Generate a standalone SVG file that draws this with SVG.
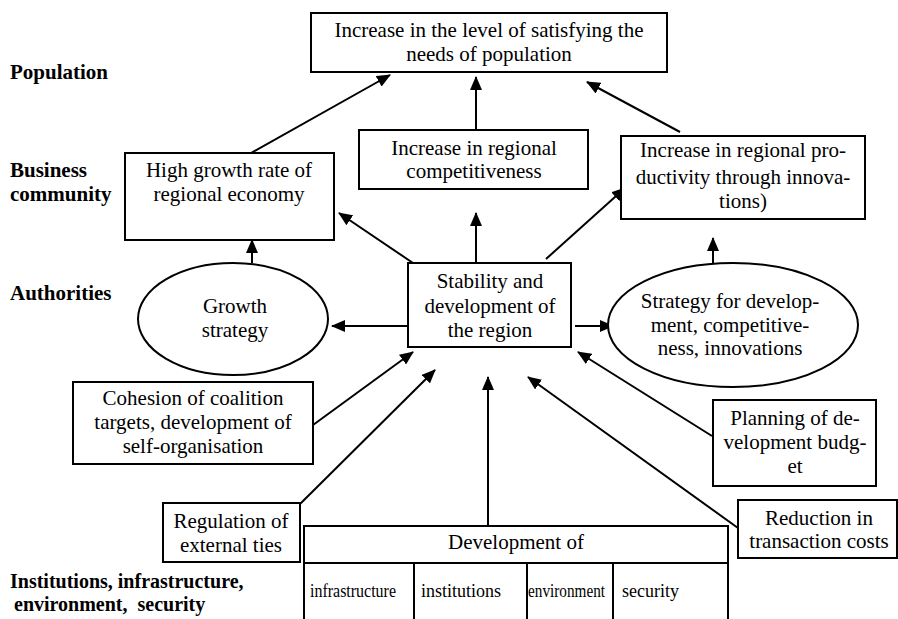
<svg xmlns="http://www.w3.org/2000/svg" width="898" height="619" viewBox="0 0 898 619">
<defs>
<style>
.box{fill:#fff;stroke:#000;stroke-width:2}
.t{font-family:"Liberation Serif","Times New Roman",serif;font-size:21px;fill:#000;text-anchor:middle}
.s{font-family:"Liberation Serif","Times New Roman",serif;font-size:18px;fill:#000}
.lab{font-family:"Liberation Serif","Times New Roman",serif;font-size:21px;font-weight:bold;fill:#000}
.lab2{font-family:"Liberation Serif","Times New Roman",serif;font-size:20px;font-weight:bold;fill:#000}
.c line{stroke:#000;stroke-width:2;marker-end:url(#ah)}
.tbl{fill:none;stroke:#000;stroke-width:2}
</style>
<marker id="ah" viewBox="0 0 14 12" refX="13" refY="6" markerUnits="userSpaceOnUse" markerWidth="14" markerHeight="12" orient="auto">
<path d="M0,0 L14,6 L0,12 Z" fill="#000"/>
</marker>
</defs>
<rect width="898" height="619" fill="#fff"/>

<g id="labels">
<text class="lab" x="10" y="79">Population</text>
<text class="lab" x="10" y="177">Business</text>
<text class="lab" x="10" y="201">community</text>
<text class="lab" x="10" y="300">Authorities</text>
<text class="lab2" x="10" y="588">Institutions, infrastructure,</text>
<text class="lab2" x="14" y="611" xml:space="preserve">environment,  security</text>
</g>

<g class="c" id="connectors">
<line x1="251" y1="153" x2="390" y2="75"/>
<line x1="476" y1="130" x2="476" y2="77"/>
<line x1="680" y1="132" x2="587" y2="82"/>
<line x1="413" y1="263" x2="339" y2="213"/>
<line x1="476" y1="263" x2="476" y2="213"/>
<line x1="546" y1="259" x2="625" y2="188"/>
<line x1="252" y1="263" x2="252" y2="240"/>
<line x1="407" y1="326" x2="332" y2="326"/>
<line x1="575" y1="326" x2="613" y2="326"/>
<line x1="713" y1="263" x2="713" y2="238"/>
<line x1="313" y1="425" x2="413" y2="352"/>
<line x1="300" y1="504" x2="435" y2="370"/>
<line x1="488" y1="526" x2="488" y2="377"/>
<line x1="738" y1="528" x2="528" y2="377"/>
<line x1="712" y1="436" x2="578" y2="352"/>
</g>

<g id="top">
<rect class="box" x="311" y="13" width="356" height="59"/>
<text class="t" x="489" y="37">Increase in the level of satisfying the</text>
<text class="t" x="489" y="61">needs of population</text>
</g>

<g id="growth-rate">
<rect class="box" x="125" y="153" width="209" height="87"/>
<text class="t" x="229" y="177">High growth rate of</text>
<text class="t" x="229" y="201">regional economy</text>
</g>

<g id="competitiveness">
<rect class="box" x="359" y="130" width="229" height="59"/>
<text class="t" x="474" y="155">Increase in regional</text>
<text class="t" x="474" y="178">competitiveness</text>
</g>

<g id="productivity">
<rect class="box" x="621" y="136" width="244" height="83"/>
<text class="t" x="743" y="157">Increase in regional pro-</text>
<text class="t" x="743" y="184">ductivity through innova-</text>
<text class="t" x="743" y="208">tions)</text>
</g>

<g id="growth-strategy">
<ellipse class="box" cx="233" cy="319" rx="95" ry="56"/>
<text class="t" x="235" y="313">Growth</text>
<text class="t" x="235" y="337">strategy</text>
</g>

<g id="stability">
<rect class="box" x="408" y="263" width="163" height="84"/>
<text class="t" x="490" y="288">Stability and</text>
<text class="t" x="490" y="313">development of</text>
<text class="t" x="490" y="337">the region</text>
</g>

<g id="strategy-dev">
<ellipse class="box" cx="733" cy="325" rx="125" ry="62"/>
<text class="t" x="730" y="308">Strategy for develop-</text>
<text class="t" x="730" y="332">ment, competitive-</text>
<text class="t" x="730" y="355">ness, innovations</text>
</g>

<g id="cohesion">
<rect class="box" x="73" y="382" width="240" height="82"/>
<text class="t" x="193" y="405">Cohesion of coalition</text>
<text class="t" x="193" y="429">targets, development of</text>
<text class="t" x="193" y="453">self-organisation</text>
</g>

<g id="planning">
<rect class="box" x="713" y="400" width="163" height="86"/>
<text class="t" x="795" y="425">Planning of de-</text>
<text class="t" x="795" y="449">velopment budg-</text>
<text class="t" x="795" y="473">et</text>
</g>

<g id="regulation">
<rect class="box" x="163" y="503" width="137" height="59"/>
<text class="t" x="231" y="528">Regulation of</text>
<text class="t" x="231" y="552">external ties</text>
</g>

<g id="reduction">
<rect class="box" x="738" y="500" width="159" height="58"/>
<text class="t" x="819" y="525">Reduction in</text>
<text class="t" x="819" y="548">transaction costs</text>
</g>

<g id="development">
<path class="tbl" d="M304,620 V526 H728 V620 M304,563 H728 M414,563 V620 M527,563 V620 M613,563 V620"/>
<text class="t" x="516" y="549">Development of</text>
<text class="s" x="310" y="597" textLength="86" lengthAdjust="spacingAndGlyphs">infrastructure</text>
<text class="s" x="421" y="597">institutions</text>
<text class="s" x="528" y="597" textLength="77" lengthAdjust="spacingAndGlyphs">environment</text>
<text class="s" x="622" y="597">security</text>
</g>
</svg>
